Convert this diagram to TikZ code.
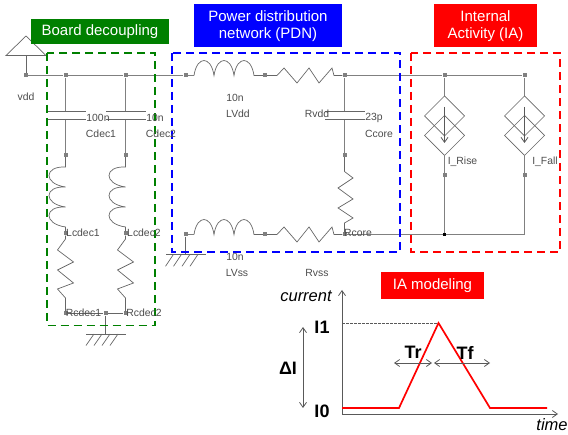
\documentclass[tikz,border=0pt]{standalone}
\usepackage{fontspec}
\setmainfont{Liberation Sans}
\usetikzlibrary{arrows.meta}
\tikzset{
	wire/.style={draw=black!50,line width=1pt},
	part/.style={draw=black!60,line width=0.7pt},
	dot/.style={fill=black!50,inner sep=0pt,minimum size=4pt},
	lbl/.style={text=black!70,font=\fontsize{10.4}{12}\selectfont,inner sep=0pt},
	title/.style={text=white,font=\fontsize{15}{17.5}\selectfont,align=center,inner sep=0pt},
	zone/.style={dashed,dash pattern=on 8pt off 5pt,line width=1.7pt},
	big/.style={font=\bfseries\fontsize{18}{20}\selectfont,inner sep=0pt},
	axislbl/.style={font=\itshape\fontsize{16.5}{20}\selectfont,inner sep=0pt},
	tip/.style={-{Straight Barb[length=5pt,width=7pt]},draw=black!65,line width=0.8pt},
	both/.style={{Straight Barb[length=5pt,width=7pt]}-{Straight Barb[length=5pt,width=7pt]},draw=black!65,line width=0.8pt}
}
\begin{document}
\begin{tikzpicture}[x=1pt,y=-1pt]
	\useasboundingbox (0,0) rectangle (568,435);
	% top rail
	\node [dot] (vdd) at (26,75.5) {};
	\node [dot] (top1) at (65.5,75.5) {};
	\node [dot] (top2) at (125.5,75.5) {};
	\node [dot] (top3) at (185.5,75.5) {};
	\node [dot] (top4) at (265,75.5) {};
	\node [dot] (top5) at (344.5,75.5) {};
	\node [dot] (top6) at (444.5,75.5) {};
	\node [dot] (top7) at (524.5,75.5) {};
	\draw [wire] (vdd) -- (top1) -- (top2) -- (top3) -- ++(8.5,0);
	\draw [wire] (top5) -- (top6) -- (top7);
	% supply symbol
	\coordinate (apex) at (26,36);
	\coordinate (base) at (26,55.5);
	\draw [part] (apex) -- (6,55.5) -- (46,55.5) -- cycle;
	\draw [part] (base) -- (vdd);
	% bottom rail
	\node [dot] (bot3) at (185.5,234.5) {};
	\node [dot] (bot4) at (265,234.5) {};
	\node [dot] (bot5) at (344.5,234.5) {};
	\node [fill=black,inner sep=0pt,minimum size=2.6pt] (bot6) at (444.5,234.5) {};
	\coordinate (bot7) at (524.5,234.5);
	\draw [wire] (bot5) -- (bot6) -- (bot7);
	% series inductors
	\draw [part] (top3) ++(8.5,0) foreach \i in {1,2,3} { .. controls +(3,-20) and +(-3,-20) .. ++(20,0) } -- (top4);
	\draw [part] (bot3) ++(8.5,0) foreach \i in {1,2,3} { .. controls +(3,-20) and +(-3,-20) .. ++(20,0) } -- (bot4);
	\draw [wire] (bot3) -- ++(8.5,0);
	% series resistors
	\draw [part] (top4) -- (277,75.5) -- (284,68) -- (297,83) -- (309,68) -- (319,83) -- (332,68) -- (334,75.5) -- (top5);
	\draw [part] (bot4) -- (277,234.5) -- (284,227) -- (297,242) -- (309,227) -- (319,242) -- (332,227) -- (334,234.5) -- (bot5);
	% decoupling branches
	\foreach \n/\x in {1/65.5,2/125.5}{
		\node [dot] (mid\n) at (\x,155) {};
		\node [dot] (lo\n) at (\x,233.5) {};
		\node [dot] (end\n) at (\x,313.5) {};
		\draw [wire] (top\n) -- (\x,111);
		\draw [wire] (\x,119) -- (mid\n);
		\draw [part] (\x-19.5,111) -- (\x+20,111);
		\draw [part] (\x-19.5,119) -- (\x+20,119);
		\draw [part] (mid\n) -- (\x,167) foreach \i in {1,2,3} { .. controls +(-22,-1) and +(-22,-3) .. ++(0,20) } -- (lo\n);
		\draw [part] (lo\n) -- (\x,239) -- (\x-8,250) -- (\x+8,262) -- (\x-8,270) -- (\x+8,283) -- (\x-8,289) -- (\x,298) -- (end\n);
	}
	\node [dot] (gnd1) at (105.5,313.5) {};
	\draw [part] (end1) -- (gnd1) -- (end2);
	% ground symbols
	\coordinate (earth1) at (105.5,334);
	\coordinate (earth2) at (185.5,254.3);
	\draw [part] (gnd1) -- (earth1);
	\draw [part] (bot3) -- (earth2);
	\draw [part] (earth1) ++(-19.5,0) -- ++(39.5,0);
	\draw [part] (earth2) ++(-19.5,0) -- ++(39.5,0);
	\foreach \x in {94,102,110,118}
		\draw [part] (\x,334) -- ++(-8,11.5);
	\foreach \x in {173.5,181.5,190,198}
		\draw [part] (\x,254.3) -- ++(-8,12);
	% core branch
	\node [dot] (midc) at (344.5,155) {};
	\draw [wire] (top5) -- (344.5,111);
	\draw [wire] (344.5,119) -- (midc);
	\draw [part] (325,111) -- (364.5,111);
	\draw [part] (325,119) -- (364.5,119);
	\draw [part] (midc) -- (344.5,171.5) -- (353,178) -- (338,188) -- (353,199) -- (338,208) -- (353,218) -- (344.5,223) -- (bot5);
	% current sources
	\foreach \n/\x/\b in {6/444.5/bot6,7/524.5/bot7}{
		\node [dot] (src\n) at (\x,175) {};
		\draw [wire] (top\n) -- (\x,96);
		\draw [part] (\x,96) -- ++(20,20) -- ++(-20,20) -- ++(-20,-20) -- cycle;
		\draw [part] (\x,115.5) -- ++(20,20) -- ++(-20,20) -- ++(-20,-20) -- cycle;
		\draw [tip] (\x,107) -- (\x,143);
		\draw [wire] (\x,155.5) -- (src\n);
		\draw [wire] (src\n) -- (\b);
	}
	% zones
	\draw [zone,draw={rgb,255:red,0;green,128;blue,0}] (47,53) rectangle (155,325.5);
	\draw [zone,draw=blue] (172,53) rectangle (400,252);
	\draw [zone,draw=red] (411,53) rectangle (560,252);
	\node [title,fill={rgb,255:red,0;green,128;blue,0},minimum width=138pt,minimum height=25pt] (boardtitle) at (100,32) {Board decoupling};
	\node [title,fill=blue,minimum width=148pt,minimum height=43pt] (pdntitle) at (268,26) {Power distribution\\network (PDN)};
	\node [title,fill=red,minimum width=103pt,minimum height=43pt] (iatitle) at (485.5,26) {Internal\\Activity (IA)};
	\node [title,fill=red,minimum width=103pt,minimum height=27pt] (modeltitle) at (432.5,286) {IA modeling};
	% annotation
	\node [lbl] (lvdd) at (26,97) {vdd};
	\node [lbl] (l10a) at (235,97.5) {10n};
	\node [lbl] (llvdd) at (238,113.5) {LVdd};
	\node [lbl] (l100) at (98,117.5) {100n};
	\node [lbl] (lcdec1) at (101,133.5) {Cdec1};
	\node [lbl] (l10b) at (155,117.5) {10n};
	\node [lbl] (lcdec2) at (161,133.5) {Cdec2};
	\node [lbl] (llcdec1) at (83,233) {Lcdec1};
	\node [lbl] (llcdec2) at (144,233) {Lcdec2};
	\node [lbl] (lrcdec1) at (83.5,312.5) {Rcdec1};
	\node [lbl] (lrcdec2) at (144,312.5) {Rcdec2};
	\node [lbl] (l10c) at (235,256.5) {10n};
	\node [lbl] (llvss) at (237,272.5) {LVss};
	\node [lbl] (lrvss) at (317,272.5) {Rvss};
	\node [lbl] (lrvdd) at (317,113.5) {Rvdd};
	\node [lbl] (l23) at (374,117.5) {23p};
	\node [lbl] (lccore) at (379,133.5) {Ccore};
	\node [lbl] (lrcore) at (358,232.5) {Rcore};
	\node [lbl] (lrise) at (462.5,161.5) {I\_Rise};
	\node [lbl] (lfall) at (545,161.5) {I\_Fall};
	% waveform
	\coordinate (origin) at (342,414);
	\coordinate (ytop) at (342,290);
	\coordinate (xend) at (558,414);
	\coordinate (peak) at (438.5,323);
	\draw [tip] (origin) -- (ytop);
	\draw [tip] (origin) -- (xend);
	\draw [dashed,draw=black!65,line width=0.5pt,dash pattern=on 2.5pt off 1.5pt] (342,323) -- (peak);
	\draw [red,line width=1.7pt] (342,408) -- (399,408) -- (peak) -- (490,408) -- (547,408);
	\coordinate (dtop) at (303,327);
	\coordinate (dbot) at (303,408);
	\draw [both] (dtop) -- (dbot);
	\coordinate (trl) at (394,363);
	\coordinate (trr) at (432,363);
	\coordinate (tfl) at (434,363);
	\coordinate (tfr) at (490,363);
	\draw [both] (trl) -- (trr);
	\draw [both] (tfl) -- (tfr);
	\node [axislbl] (lcurrent) at (306,296) {current};
	\node [axislbl] (ltime) at (552,425) {time};
	\node [big] (li1) at (322,327) {I1};
	\node [big] (li0) at (322,411) {I0};
	\node [big] (ldi) at (288,368) {ΔI};
	\node [big] (ltr) at (413,352.5) {Tr};
	\node [big] (ltf) at (465,352.5) {Tf};
\end{tikzpicture}
\end{document}
